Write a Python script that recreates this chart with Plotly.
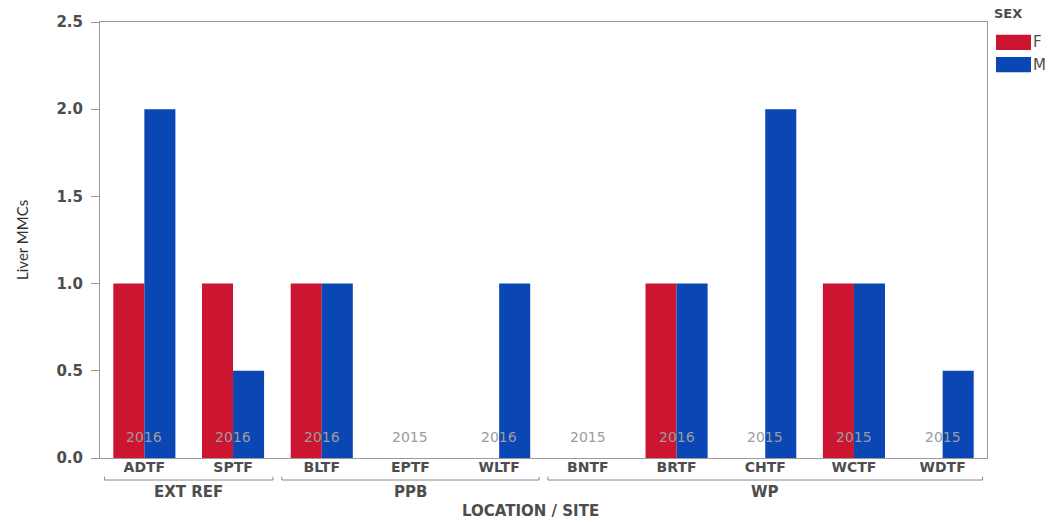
import plotly.graph_objects as go

sites = ["ADTF", "SPTF", "BLTF", "EPTF", "WLTF", "BNTF", "BRTF", "CHTF", "WCTF", "WDTF"]
years = ["2016", "2016", "2016", "2015", "2016", "2015", "2016", "2015", "2015", "2015"]
female = [1, 1, 1, None, None, None, 1, None, 1, None]
male = [2, 0.5, 1, None, 1, None, 1, 2, 1, 0.5]
groups = [("EXT REF", 0, 1), ("PPB", 2, 4), ("WP", 5, 9)]
y_ticks = [0.0, 0.5, 1.0, 1.5, 2.0, 2.5]

RED = "#CC1530"
BLUE = "#0B46B5"
FONT = "DejaVu Sans, Verdana, sans-serif"
TXT = "#4d4d4d"

fig = go.Figure()
fig.add_trace(go.Bar(x=sites, y=female, name="F", marker=dict(color=RED, line=dict(width=0))))
fig.add_trace(go.Bar(x=sites, y=male, name="M", marker=dict(color=BLUE, line=dict(width=0))))

# year labels inside plot
for s, yr in zip(sites, years):
    fig.add_annotation(x=s, y=0.12, xref="x", yref="y", text=yr, showarrow=False,
                       font=dict(family=FONT, size=14, color="#9c9c9c"))

# group brackets and labels
for name, i0, i1 in groups:
    x0, x1 = i0 - 0.45, i1 + 0.45
    fig.add_shape(type="line", xref="x", yref="paper", x0=x0, x1=x1, y0=-0.0505, y1=-0.0505,
                  line=dict(color="#8a8a8a", width=1))
    fig.add_shape(type="line", xref="x", yref="paper", x0=x0, x1=x0, y0=-0.0505, y1=-0.043,
                  line=dict(color="#8a8a8a", width=1))
    fig.add_shape(type="line", xref="x", yref="paper", x0=x1, x1=x1, y0=-0.0505, y1=-0.043,
                  line=dict(color="#8a8a8a", width=1))
    fig.add_annotation(x=(i0 + i1) / 2, y=-0.079, xref="x", yref="paper", text=name,
                       showarrow=False, yanchor="middle",
                       font=dict(family=FONT, size=15, color=TXT, weight="bold"))

# axis titles
fig.add_annotation(x=0.485, y=-0.122, xref="paper", yref="paper", text="LOCATION / SITE",
                   showarrow=False, yanchor="middle",
                   font=dict(family=FONT, size=15, color=TXT, weight="bold"))
fig.add_annotation(x=-0.088, y=0.5, xref="paper", yref="paper", text="Liver MMCs",
                   showarrow=False, textangle=-90, xanchor="center", yanchor="middle",
                   font=dict(family="Lato, sans-serif", size=15, color="#333333"))

# manual legend
fig.add_annotation(x=1.006, y=1.02, xref="paper", yref="paper", text="SEX", showarrow=False,
                   xanchor="left", yanchor="middle",
                   font=dict(family=FONT, size=13, color=TXT, weight="bold"))
for k, (lab, col) in enumerate([("F", RED), ("M", BLUE)]):
    y0 = 0.936 - k * 0.051
    fig.add_shape(type="rect", xref="paper", yref="paper", x0=1.0101, x1=1.0496,
                  y0=y0, y1=y0 + 0.035, fillcolor=col, line=dict(width=0))
    fig.add_annotation(x=1.050, y=y0 + 0.0175, xref="paper", yref="paper", text=lab, showarrow=False,
                       xanchor="left", yanchor="middle",
                       font=dict(family=FONT, size=15, color=TXT))

fig.update_layout(
    width=1059, height=522,
    margin=dict(l=100, r=72, t=22, b=64),
    paper_bgcolor="white", plot_bgcolor="white",
    barmode="group", bargap=0.3, bargroupgap=0,
    showlegend=False,
    font=dict(family=FONT, color=TXT),
    xaxis=dict(showline=True, linecolor="#9a9a9a", linewidth=1, mirror=True,
               ticks="", ticklabelstandoff=-4,
               tickfont=dict(family=FONT, size=14, color=TXT, weight="bold"),
               automargin=False, showgrid=False),
    yaxis=dict(range=[0, 2.5], tickvals=y_ticks, tickformat=".1f",
               showline=True, linecolor="#9a9a9a", linewidth=1, mirror=True,
               ticks="outside", ticklen=8, tickcolor="#9a9a9a", ticklabelstandoff=5,
               tickfont=dict(family=FONT, size=15, color=TXT, weight="bold"),
               automargin=False, showgrid=False, zeroline=False),
)

fig.write_html("out.html", config={"displayModeBar": False},
               post_script="document.body.style.margin='0';document.body.style.overflow='hidden';")
